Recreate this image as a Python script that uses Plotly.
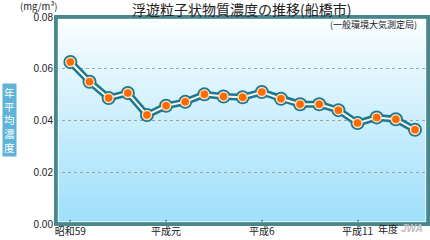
import plotly.graph_objects as go

years = list(range(1984, 2003))
values = [0.0626, 0.0550, 0.0487, 0.0506, 0.0421, 0.0457, 0.0472, 0.0501, 0.0493,
          0.0490, 0.0510, 0.0484, 0.0463, 0.0463, 0.0440, 0.0390, 0.0412, 0.0405, 0.0364]
tick_years = [1984, 1989, 1994, 1999]
tick_labels = ["昭和59", "平成元", "平成6", "平成11"]
y_ticks = [0.00, 0.02, 0.04, 0.06, 0.08]

FONT = "Noto Sans CJK JP"
L, T, W, H = 56, 17, 372, 211


def px(x):
    return (x - L) / W


def py(y):
    return (T + H - y) / H


fig = go.Figure()
fig.add_trace(go.Scatter(x=years, y=values, mode="lines+markers",
                         line=dict(color="#1b7896", width=7),
                         marker=dict(size=14, color="#1b7896"),
                         hoverinfo="skip", showlegend=False))
fig.add_trace(go.Scatter(x=years, y=values, mode="lines+markers",
                         line=dict(color="#fff6e6", width=2),
                         marker=dict(size=9, color="#ff6a00", line=dict(color="#ffdcb0", width=1.5)),
                         showlegend=False))


def lerp(c1, c2, t):
    return "#%02x%02x%02x" % tuple(int(round(a + (b - a) * t)) for a, b in zip(c1, c2))


top = (250, 254, 255)
bot = (158, 223, 250)
n = 40
shapes = []
for i in range(n):
    t = i / (n - 1)
    shapes.append(dict(type="rect", xref="paper", yref="paper", x0=0, x1=1,
                       y0=1 - (i + 1) / n, y1=1 - i / n + 0.002,
                       fillcolor=lerp(top, bot, t), line=dict(width=0), layer="below"))
shapes.append(dict(type="rect", xref="paper", yref="paper", x0=0, x1=1, y0=0, y1=1,
                   line=dict(color="#4a878c", width=4), layer="above"))
shapes.append(dict(type="rect", xref="paper", yref="paper", x0=0.006, x1=0.994, y0=0.011, y1=0.989,
                   line=dict(color="rgba(255,255,255,0.7)", width=1), layer="above"))

fig.update_layout(
    width=430, height=240,
    margin=dict(l=L, r=430 - L - W, t=T, b=240 - T - H),
    paper_bgcolor="white", plot_bgcolor="white",
    shapes=shapes,
    xaxis=dict(range=[1983.25, 2002.68], tickvals=tick_years, ticktext=tick_labels,
               showgrid=False, zeroline=False, ticks="inside", ticklen=4,
               tickcolor="#5a7f88", tickwidth=2, ticklabelstandoff=0,
               tickfont=dict(family=FONT, size=10, color="#222")),
    yaxis=dict(range=[0, 0.08], tickvals=y_ticks, tickformat=".2f",
               showgrid=True, gridcolor="#9aa6aa", griddash="dot", gridwidth=1,
               zeroline=False, ticks="", ticklabelstandoff=2,
               tickfont=dict(family="Liberation Sans Narrow, Liberation Sans", size=10, color="#222")),
    annotations=[
        dict(text="浮遊粒子状物質濃度の推移(船橋市)", xref="paper", yref="paper",
             x=px(241.5), y=py(9), xanchor="center", yanchor="middle", showarrow=False,
             font=dict(family=FONT, size=14, color="#222")),
        dict(text="(mg/m³)", xref="paper", yref="paper", x=px(18), y=py(6), xanchor="left",
             yanchor="middle", showarrow=False,
             font=dict(family=FONT, size=9.5, color="#222")),
        dict(text="(一般環境大気測定局)", xref="paper", yref="paper", x=px(419), y=py(25),
             xanchor="right", yanchor="middle", showarrow=False,
             font=dict(family=FONT, size=9, color="#222")),
        dict(text="年<br>平<br>均<br>濃<br>度", xref="paper", yref="paper", x=px(9), y=py(122),
             xanchor="center", yanchor="middle", showarrow=False, bgcolor="#5db4d8",
             borderpad=1, font=dict(family=FONT, size=10.5, color="white")),
        dict(text="年度", xref="paper", yref="paper", x=px(388), y=py(233),
             xanchor="center", yanchor="middle", showarrow=False,
             font=dict(family=FONT, size=10, color="#222")),
        dict(text="<b><i>JWA</i></b>", xref="paper", yref="paper", x=px(425), y=py(233),
             xanchor="right", yanchor="middle", showarrow=False,
             font=dict(family="Liberation Sans", size=10, color="#c0c0c0")),
    ],
)

fig.write_html("out.html")
